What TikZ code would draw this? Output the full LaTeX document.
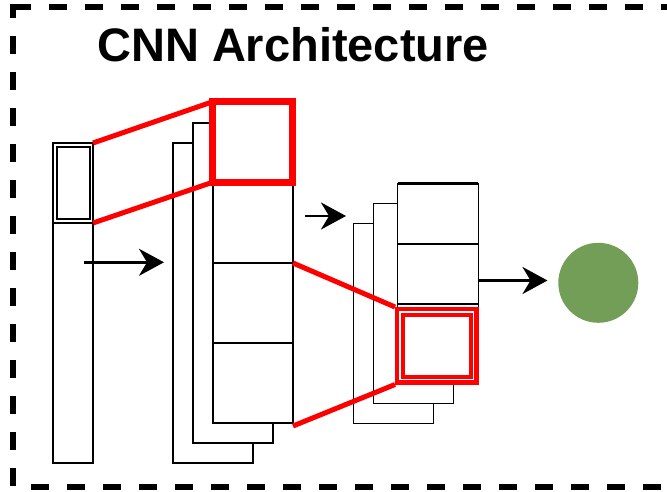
\documentclass[tikz,border=0pt]{standalone}
\usepackage{fontspec}
\usepackage{tikz}
\usetikzlibrary{arrows.meta}
\newfontfamily\headfont{Liberation Sans}
\definecolor{outgreen}{RGB}{114,158,88}

\begin{document}
\begin{tikzpicture}[x=1pt, y=-1pt,
  layer/.style={draw, fill=white, line width=1.5pt, inner sep=0pt, outer sep=0pt},
  kernel/.style={draw=red, line width=7pt, inner sep=0pt, outer sep=0pt},
  link/.style={red, line width=5pt},
  flow/.style={line width=2.6pt, -{Stealth[length=25pt, width=27pt, inset=8pt]}},
  frame/.style={line width=6pt, dash pattern=on 18pt off 18pt}]
\useasboundingbox (0,0) rectangle (667,492);
\clip (0,0) rectangle (667,492);
\draw[frame, dash phase=4pt] (12.5,4) -- (12.5,490);
\draw[frame] (12.5,7) -- (680,7);
\draw[frame, dash phase=18pt] (12.5,487) -- (680,487);
\node[anchor=base west, inner sep=0pt, font=\headfont\bfseries\fontsize{47}{56}\selectfont] (title) at (97,62) {CNN Architecture};
% input column with the patch on top
\node[layer, minimum width=40pt, minimum height=320pt] (input) at (73,303) {};
\node[layer, minimum width=40pt, minimum height=80pt] (patch) at (73,183) {};
\draw[line width=1.5pt] ([shift={(4,4)}]patch.north west) rectangle ([shift={(-3,-4)}]patch.south east);
% first stack of feature maps
\node[layer, minimum width=80pt, minimum height=320pt] (mapA3) at (213,303) {};
\node[layer, minimum width=80pt, minimum height=320pt] (mapA2) at (233,283) {};
\foreach \i in {1,...,4}
  \node[layer, minimum width=80pt, minimum height=80pt] (a\i) at (253,63+80*\i) {};
\node[kernel, minimum width=80pt, minimum height=80.5pt] (k1) at (252.6,142) {};
% second stack
\node[layer, minimum width=80pt, minimum height=200pt] (mapB3) at (393.3,323.3) {};
\node[layer, minimum width=80pt, minimum height=200pt] (mapB2) at (413.3,303.3) {};
\node[layer, minimum width=80.6pt, minimum height=60pt] (b1) at (438,214) {};
\node[layer, minimum width=80.6pt, minimum height=60pt] (b2) at (438,274) {};
\node[layer, minimum width=80.6pt, minimum height=80pt] (b3) at (438,344) {};
\draw[line width=3pt] (b1.north west) -- (b1.north east);
\node[draw=red, double=white, double distance=1.2pt, line width=4.4pt, inner sep=0pt, outer sep=5pt,
  minimum width=73.5pt, minimum height=67.5pt] (k2) at (436.75,345.75) {};
\draw[link] (patch.north east) -- (k1.north west);
\draw[link] (patch.south east) -- (k1.south west);
\draw[link] (a3.north east) -- (k2.north west);
\draw[link] ([yshift=-3pt]a4.south east) -- (k2.south west);
% output
\node[circle, fill=outgreen, minimum size=80pt, inner sep=0pt] (out) at (598.3,282.8) {};
\coordinate (f1) at (84,262.3);
\coordinate (f2) at (305,216);
\coordinate (f3) at (479,280.5);
\draw[flow] (f1) -- (164,262.3);
\draw[flow] (f2) -- (346,216);
\draw[flow] (f3) -- ([xshift=-10.6pt]out.west |- f3);
\end{tikzpicture}
\end{document}
